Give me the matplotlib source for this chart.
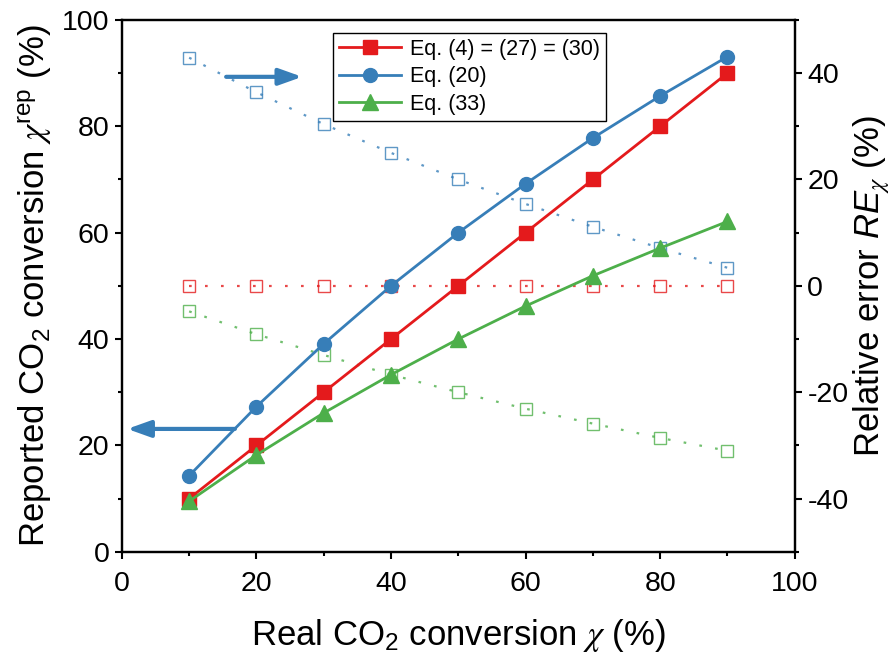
import matplotlib
matplotlib.use('Agg')
import matplotlib.pyplot as plt
from matplotlib.ticker import MultipleLocator

plt.rcParams['font.family'] = ['Liberation Sans', 'DejaVu Sans']
plt.rcParams['mathtext.fontset'] = 'custom'
plt.rcParams['mathtext.rm'] = 'Liberation Sans'
plt.rcParams['mathtext.it'] = 'Liberation Sans:italic'
plt.rcParams['mathtext.sf'] = 'STIXGeneral:italic'
plt.rcParams['axes.unicode_minus'] = False

# real conversion (%)
x_real = [10, 20, 30, 40, 50, 60, 70, 80, 90]

# reported conversion (%)
rep_eq4 = [10, 20, 30, 40, 50, 60, 70, 80, 90]
rep_eq20 = [14.3, 27.3, 39.1, 50.0, 60.0, 69.2, 77.8, 85.7, 93.1]
rep_eq33 = [9.5, 18.2, 26.1, 33.3, 40.0, 46.2, 51.9, 57.1, 62.1]

# relative error (%)
re_eq4 = [0, 0, 0, 0, 0, 0, 0, 0, 0]
re_eq20 = [42.9, 36.4, 30.4, 25.0, 20.0, 15.4, 11.1, 7.1, 3.4]
re_eq33 = [-4.8, -9.1, -13.0, -16.7, -20.0, -23.1, -25.9, -28.6, -31.0]

labels = ['Eq. (4) = (27) = (30)', 'Eq. (20)', 'Eq. (33)']
RED = '#e41a1c'
BLUE = '#377eb8'
GREEN = '#4daf4a'

fig = plt.figure(figsize=(8.96, 6.64), dpi=100)
ax = fig.add_axes([0.136, 0.169, 0.751, 0.801])
ax2 = ax.twinx()

# relative error curves on the right axis
dots = (0, (1.2, 6))
for vals, c in [(re_eq4, RED), (re_eq20, BLUE), (re_eq33, GREEN)]:
    ax2.plot(x_real, vals, color=c, ls=dots, lw=1.6, marker='s', ms=8,
             mfc='none', mec=c, mew=1.0, alpha=0.8)

# reported conversion curves on the left axis
ax.set_zorder(ax2.get_zorder() + 1)
ax.patch.set_visible(False)
h1, = ax.plot(x_real, rep_eq4, color=RED, lw=2, marker='s', ms=10)
h2, = ax.plot(x_real, rep_eq20, color=BLUE, lw=2, marker='o', ms=10)
h3, = ax.plot(x_real, rep_eq33, color=GREEN, lw=2, marker='^', ms=11)

# arrows pointing to the axis each group belongs to
ax.annotate('', xy=(26.8, 89.3), xytext=(15.5, 89.3),
            arrowprops=dict(arrowstyle='-|>,head_length=1.4,head_width=0.5',
                            lw=3, color=BLUE, shrinkA=0, shrinkB=0))
ax.annotate('', xy=(0.8, 23.1), xytext=(16.8, 23.1),
            arrowprops=dict(arrowstyle='-|>,head_length=1.4,head_width=0.5',
                            lw=3, color=BLUE, shrinkA=0, shrinkB=0))

ax.set_xlim(0, 100)
ax.set_ylim(0, 100)
ax2.set_ylim(-50, 50)

ax.xaxis.set_major_locator(MultipleLocator(20))
ax.xaxis.set_minor_locator(MultipleLocator(10))
ax.yaxis.set_major_locator(MultipleLocator(20))
ax.yaxis.set_minor_locator(MultipleLocator(10))
ax2.yaxis.set_major_locator(MultipleLocator(20))
ax2.yaxis.set_minor_locator(MultipleLocator(10))

for a in (ax, ax2):
    for s in a.spines.values():
        s.set_linewidth(1.6)
    a.tick_params(which='major', direction='out', length=5, width=1.5,
                  labelsize=20.5, pad=4)
    a.tick_params(which='minor', direction='out', length=3, width=1.5)
ax.tick_params(top=False, right=False, which='both')
ax.tick_params(axis='x', pad=9)

ax.set_xlabel(r'Real CO$_\mathregular{2}$ conversion $\mathsf{\chi}$ (%)',
              fontsize=25, labelpad=14)
ax.set_ylabel(r'Reported CO$_\mathregular{2}$ conversion $\mathsf{\chi}^\mathregular{rep}$ (%)',
              fontsize=25, labelpad=6)
ax2.set_ylabel(r'Relative error $\mathit{RE}_\mathsf{\chi}$ (%)',
               fontsize=25, labelpad=2)

leg = ax.legend([h1, h2, h3], labels, loc='upper left',
                bbox_to_anchor=(0.3135, 0.9756), borderaxespad=0,
                fontsize=15.5, handlelength=2.9, labelspacing=0.3,
                handletextpad=0.4, borderpad=0.28, fancybox=False,
                framealpha=1, edgecolor='black')
leg.get_frame().set_linewidth(1.0)

fig.savefig('out.png', dpi=100)
